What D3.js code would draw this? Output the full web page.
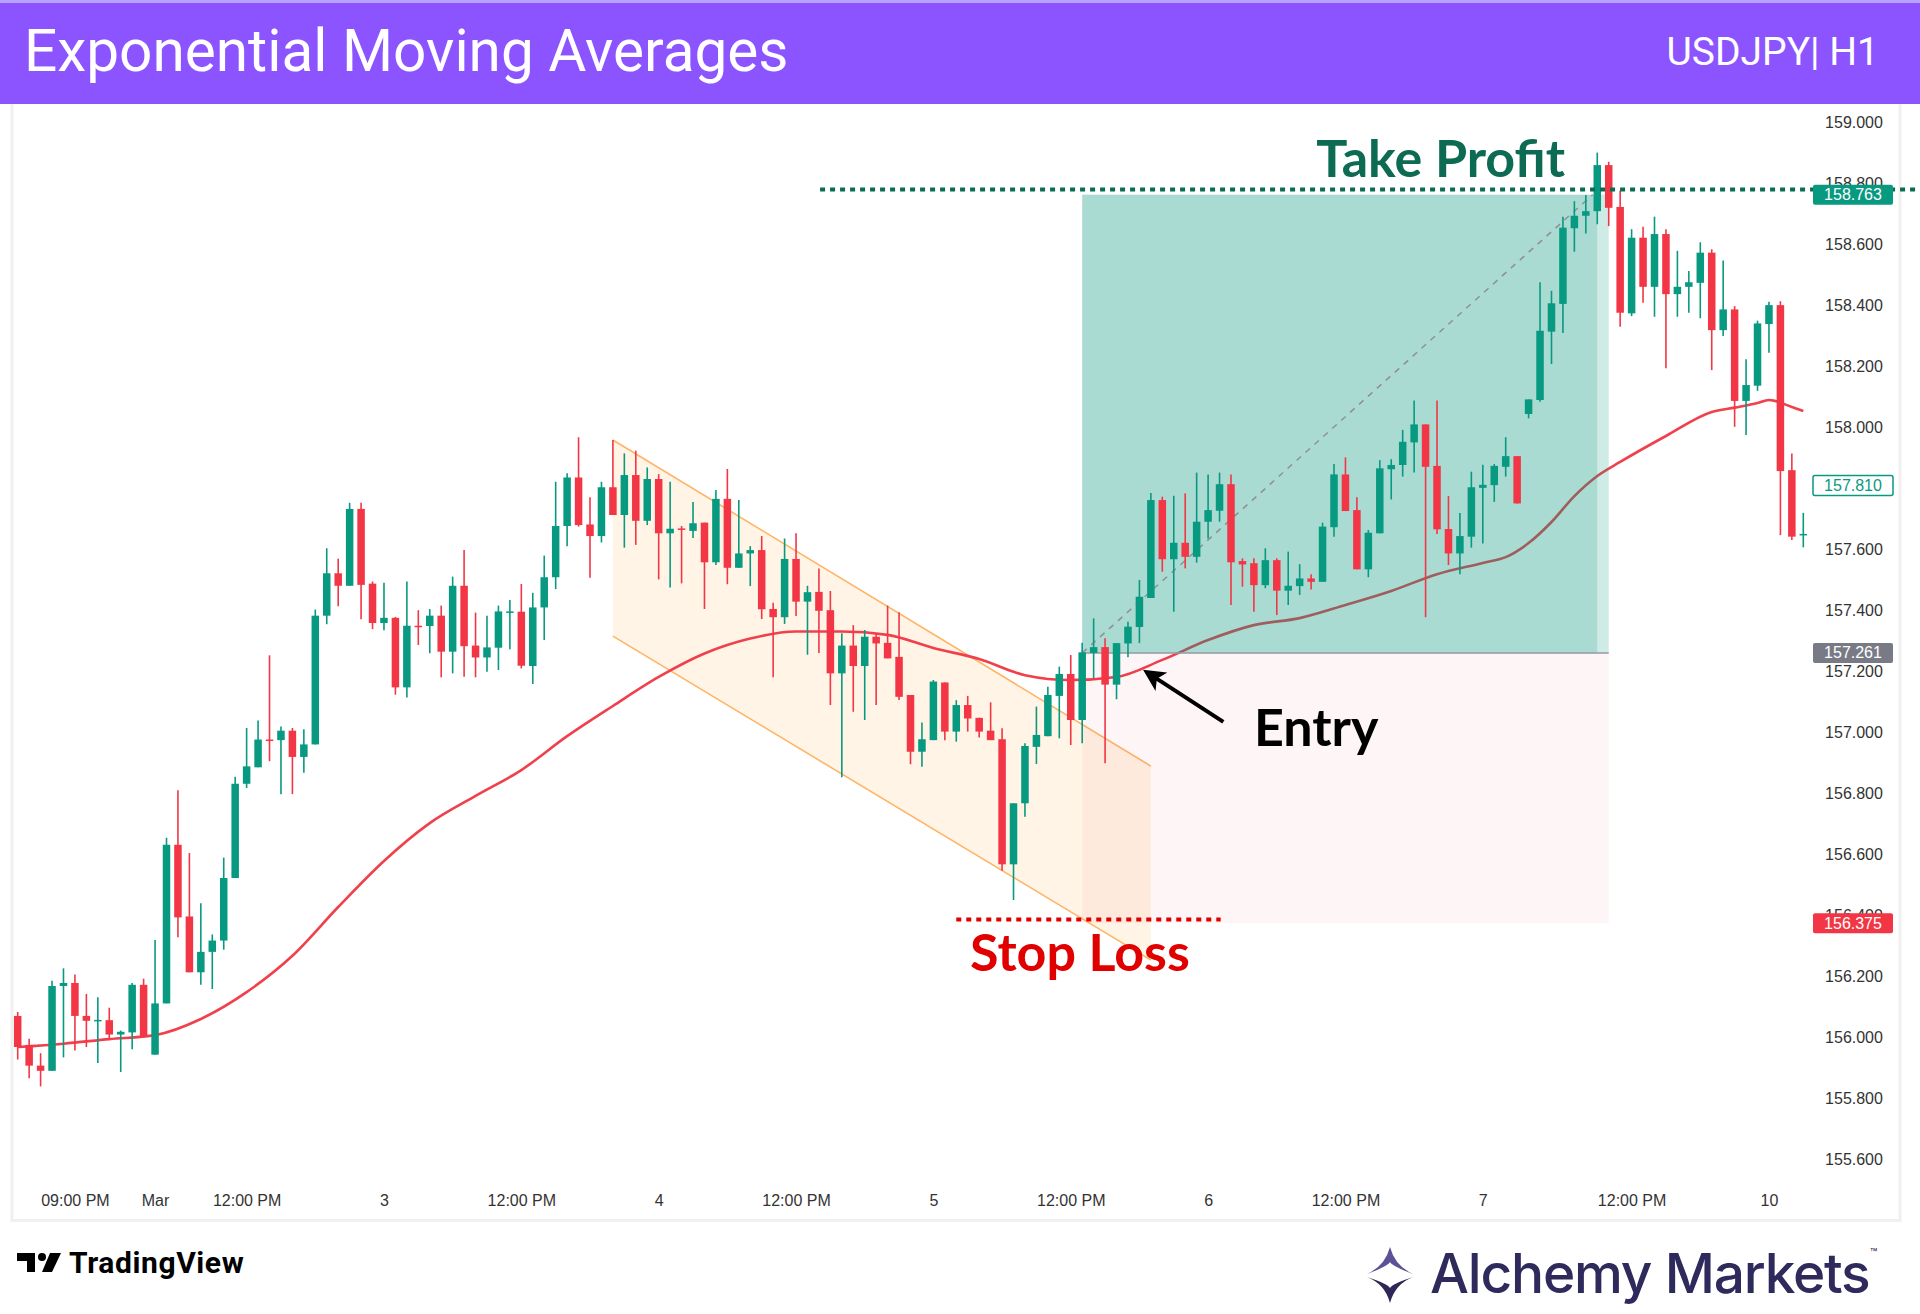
<!DOCTYPE html>
<html>
<head>
<meta charset="utf-8">
<script src="https://cdn.jsdelivr.net/npm/d3@7"></script>
<style>
body{margin:0;background:#fff}
svg{display:block}
</style>
</head>
<body>
<svg id="chart" width="1920" height="1314"></svg>
<script>
// USDJPY H1 candles
var opens = [156.071,155.976,155.908,155.891,156.169,156.179,156.071,156.056,156.057,156.010,156.017,156.173,155.944,156.112,156.632,156.397,156.214,156.281,156.318,156.523,
156.832,156.886,156.977,156.975,157.006,156.920,156.961,157.383,157.522,157.481,157.733,157.488,157.359,157.376,157.148,157.350,157.349,157.383,157.265,157.481,
157.285,157.246,157.278,157.395,157.396,157.218,157.410,157.509,157.677,157.836,157.682,157.644,157.804,157.713,157.844,157.694,157.831,157.653,157.669,157.661,
157.688,157.558,157.766,157.540,157.587,157.598,157.405,157.378,157.569,157.429,157.461,157.401,157.194,157.285,157.218,157.314,157.294,157.248,157.123,156.937,
156.975,157.164,157.003,157.090,157.048,157.006,156.978,156.568,156.768,156.953,156.988,157.120,157.192,157.041,157.261,157.280,157.157,157.292,157.346,157.441,
157.762,157.568,157.622,157.576,157.691,157.727,157.814,157.562,157.555,157.483,157.565,157.465,157.480,157.505,157.494,157.673,157.846,157.729,157.535,157.653,
157.863,157.877,157.951,158.010,157.874,157.667,157.587,157.642,157.802,157.811,157.871,157.906,158.044,158.090,158.314,158.405,158.653,158.694,158.709,158.860,
158.723,158.374,158.622,158.461,158.634,158.437,158.461,158.474,158.573,158.319,158.387,158.087,158.137,158.339,158.401,157.860,157.650];
var highs = [156.084,155.996,155.949,156.186,156.227,156.207,156.143,156.132,156.098,156.023,156.179,156.193,156.320,156.655,156.811,156.605,156.440,156.338,156.590,156.855,
157.015,157.039,157.253,157.020,157.015,157.011,157.403,157.604,157.570,157.753,157.753,157.495,157.491,157.379,157.495,157.401,157.405,157.416,157.511,157.598,
157.393,157.383,157.416,157.434,157.487,157.458,157.580,157.822,157.850,157.968,157.771,157.822,157.959,157.915,157.924,157.869,157.847,157.822,157.677,157.756,
157.688,157.795,157.864,157.762,157.611,157.644,157.425,157.636,157.653,157.481,157.538,157.464,157.325,157.352,157.336,157.325,157.416,157.394,157.123,157.033,
157.172,157.164,157.106,157.120,157.048,157.099,157.014,156.768,156.965,157.085,157.150,157.216,157.254,157.294,157.374,157.309,157.293,157.363,157.500,157.785,
157.773,157.776,157.784,157.852,157.846,157.852,157.846,157.571,157.571,157.604,157.571,157.593,157.552,157.519,157.688,157.880,157.902,157.771,157.664,157.893,
157.896,157.992,158.088,158.010,158.088,157.775,157.720,157.855,157.878,157.880,157.968,157.906,158.092,158.476,158.448,158.691,158.742,158.762,158.901,158.871,
158.776,158.650,158.658,158.691,158.650,158.579,158.513,158.607,158.584,158.547,158.398,158.224,158.350,158.412,158.414,157.915,157.720];
var lows = [155.928,155.867,155.840,155.891,155.935,155.958,155.969,155.917,155.996,155.887,155.962,156.003,155.944,156.112,156.329,156.214,156.173,156.159,156.288,156.523,
156.818,156.886,156.906,156.798,156.798,156.868,156.961,157.355,157.414,157.481,157.371,157.339,157.335,157.124,157.115,157.287,157.260,157.181,157.194,157.183,
157.181,157.199,157.205,157.273,157.210,157.159,157.303,157.470,157.611,157.675,157.507,157.623,157.713,157.606,157.615,157.680,157.502,157.475,157.489,157.638,
157.405,157.549,157.486,157.540,157.480,157.372,157.181,157.356,157.382,157.255,157.261,157.090,156.853,157.068,157.041,157.090,157.243,157.107,156.896,156.888,
156.975,156.975,156.970,157.003,156.984,156.975,156.547,156.451,156.724,156.897,156.988,156.981,156.959,156.965,157.178,156.899,157.109,157.247,157.293,157.441,
157.527,157.396,157.538,157.557,157.636,157.691,157.418,157.478,157.396,157.473,157.385,157.418,157.451,157.469,157.494,157.642,157.726,157.535,157.509,157.653,
157.764,157.839,157.852,157.378,157.651,157.549,157.519,157.606,157.620,157.756,157.839,157.751,158.030,158.084,158.208,158.310,158.576,158.636,158.666,158.660,
158.330,158.365,158.409,158.363,158.194,158.363,158.376,158.358,158.188,158.300,158.002,157.975,158.120,158.245,157.647,157.631,157.607];
var closes = [155.969,155.908,155.891,156.169,156.179,156.071,156.055,156.058,156.010,156.019,156.173,156.003,156.112,156.632,156.394,156.214,156.281,156.318,156.523,156.832,
156.889,156.977,156.975,157.006,156.920,156.961,157.383,157.522,157.481,157.733,157.484,157.359,157.376,157.148,157.350,157.347,157.383,157.265,157.481,157.283,
157.246,157.279,157.397,157.397,157.219,157.410,157.509,157.677,157.836,157.680,157.644,157.804,157.713,157.844,157.694,157.831,157.653,157.668,157.666,157.686,
157.558,157.766,157.540,157.587,157.598,157.404,157.378,157.569,157.429,157.460,157.399,157.194,157.285,157.218,157.314,157.292,157.243,157.117,156.937,156.978,
157.167,157.003,157.090,157.046,157.003,156.975,156.568,156.768,156.956,156.992,157.123,157.192,157.041,157.263,157.280,157.157,157.293,157.347,157.445,157.762,
157.568,157.622,157.576,157.691,157.729,157.814,157.558,157.551,157.483,157.565,157.465,157.481,157.505,157.494,157.675,157.846,157.726,157.535,157.655,157.866,
157.877,157.953,158.010,157.871,157.666,157.587,157.644,157.804,157.812,157.874,157.906,157.751,158.092,158.317,158.407,158.655,158.694,158.709,158.860,158.720,
158.376,158.622,158.461,158.634,158.437,158.461,158.476,158.573,158.319,158.387,158.087,158.139,158.341,158.401,157.857,157.642,157.651];

// EMA readings (bar index, value)
var emaIdx = [0,4,8,12,16,20,24,28,32,36,40,44,48,52,56,60,64,68,72,76,80,84,88,92,96,100,104,108,112,116,120,124,128,130,132,134,136,138,140,144,148,150,152,153,155,156];
var emaVals = [155.969,155.980,155.995,156.008,156.061,156.149,156.268,156.428,156.579,156.703,156.792,156.877,156.988,157.087,157.182,157.259,157.308,157.331,157.331,157.320,
157.277,157.241,157.188,157.172,157.182,157.238,157.303,157.352,157.375,157.418,157.464,157.519,157.556,157.575,157.621,157.690,157.775,157.841,157.887,157.972,
158.051,158.065,158.080,158.090,158.067,158.054];

var yTicks = [159.0,158.8,158.6,158.4,158.2,158.0,157.8,157.6,157.4,157.2,157.0,156.8,156.6,156.4,156.2,156.0,155.8,155.6];
var xTickIdx = [5,12,20,32,44,56,68,80,92,104,116,128,141,153];
var xTickLabels = ["09:00 PM","Mar","12:00 PM","3","12:00 PM","4","12:00 PM","5","12:00 PM","6","12:00 PM","7","12:00 PM","10"];

// trade levels
var tpPrice = 158.763, entryPrice = 157.261, slPrice = 156.375, markPrice = 157.810;
var entryIdx = 93, hitIdx = 138, endIdx = 139;
// channel drawn on the chart: [bar, price]
var channelTop = [[52,157.959],[99,156.890]];
var channelBottom = [[52,157.316],[99,156.254]];

var GREEN = "#089981", RED = "#f23645";

var svg = d3.select("#chart");
var x = d3.scaleLinear().domain([0,156]).range([17.7,1803.3]);
var y = d3.scaleLinear().domain([155.6,159]).range([1159.6,122.4]);

// header band
svg.append("rect").attr("width",1920).attr("height",104).attr("fill","#8c54ff");
svg.append("rect").attr("width",1920).attr("height",3).attr("fill","#b8a2ff");
svg.append("text").attr("x",24).attr("y",71)
    .attr("font-family","Roboto").attr("font-size",58.5).attr("fill","#fff")
    .text("Exponential Moving Averages");
svg.append("text").attr("x",1879).attr("y",65).attr("text-anchor","end")
    .attr("font-family","Roboto").attr("font-size",39).attr("fill","#fff")
    .text("USDJPY| H1");

// panel frame
var frame = svg.append("g").attr("stroke","#f0f0f0").attr("stroke-width",3);
frame.append("line").attr("x1",12).attr("x2",12).attr("y1",104).attr("y2",1222);
frame.append("line").attr("x1",1900).attr("x2",1900).attr("y1",104).attr("y2",1222);
frame.append("line").attr("x1",10.5).attr("x2",1901.5).attr("y1",1220.5).attr("y2",1220.5);

// falling channel
var chan = channelTop.concat(channelBottom.slice().reverse());
svg.append("path")
    .attr("d", d3.line().x(function(d){return x(d[0]);}).y(function(d){return y(d[1]);})(chan) + "Z")
    .attr("fill","rgba(255,152,0,0.1)");
[channelTop, channelBottom].forEach(function(seg){
    svg.append("line")
        .attr("x1",x(seg[0][0])).attr("y1",y(seg[0][1]))
        .attr("x2",x(seg[1][0])).attr("y2",y(seg[1][1]))
        .attr("stroke","#ffb466").attr("stroke-width",1.6);
});

// EMA
var emaPts = emaIdx.map(function(d,i){return [d, emaVals[i]];});
svg.append("path")
    .attr("d", d3.line().curve(d3.curveMonotoneX)
        .x(function(d){return x(d[0]);}).y(function(d){return y(d[1]);})(emaPts))
    .attr("fill","none").attr("stroke","#f0404c").attr("stroke-width",2.6);

// long position tool
svg.append("rect").attr("x",x(entryIdx)).attr("width",x(endIdx)-x(entryIdx))
    .attr("y",y(entryPrice)).attr("height",y(slPrice)-y(entryPrice))
    .attr("fill","rgba(242,54,69,0.05)");
svg.append("rect").attr("x",x(entryIdx)).attr("width",x(hitIdx)-x(entryIdx))
    .attr("y",y(tpPrice)).attr("height",y(entryPrice)-y(tpPrice))
    .attr("fill","rgba(8,153,129,0.35)");
svg.append("rect").attr("x",x(hitIdx)).attr("width",x(endIdx)-x(hitIdx))
    .attr("y",y(tpPrice)).attr("height",y(entryPrice)-y(tpPrice))
    .attr("fill","rgba(8,153,129,0.2)");
svg.append("line").attr("x1",x(entryIdx)).attr("x2",x(endIdx))
    .attr("y1",y(entryPrice)).attr("y2",y(entryPrice))
    .attr("stroke","#9598a1").attr("stroke-width",1.5);
svg.append("line").attr("x1",x(entryIdx)).attr("y1",y(entryPrice))
    .attr("x2",x(hitIdx - 0.4)).attr("y2",y(tpPrice))
    .attr("stroke","#8f8f96").attr("stroke-width",1.5).attr("stroke-dasharray","6,6");

// candles
var candles = opens.map(function(o,i){
    return {i:i, o:o, h:highs[i], l:lows[i], c:closes[i]};
});
var cg = svg.append("g").selectAll("g").data(candles).enter().append("g")
    .attr("fill",function(d){return d.c >= d.o ? GREEN : RED;})
    .attr("stroke",function(d){return d.c >= d.o ? GREEN : RED;});
cg.append("line")
    .attr("x1",function(d){return x(d.i);}).attr("x2",function(d){return x(d.i);})
    .attr("y1",function(d){return y(d.h);}).attr("y2",function(d){return y(d.l);})
    .attr("stroke-width",1.6);
cg.append("rect")
    .attr("stroke","none")
    .attr("x",function(d){return x(d.i)-3.75;}).attr("width",7.5)
    .attr("y",function(d){return y(Math.max(d.o,d.c));})
    .attr("height",function(d){return Math.max(1.5, Math.abs(y(d.o)-y(d.c)));});

// take profit / stop loss marks
svg.append("line").attr("x1",x(70.1)).attr("x2",1920)
    .attr("y1",y(158.78)).attr("y2",y(158.78))
    .attr("stroke","#0c6b52").attr("stroke-width",4).attr("stroke-dasharray","5,5");
svg.append("line").attr("x1",x(82)).attr("x2",x(105.1))
    .attr("y1",y(156.387)).attr("y2",y(156.387))
    .attr("stroke","#e00000").attr("stroke-width",4).attr("stroke-dasharray","5,5");

var notes = svg.append("g").attr("font-family","Lato").attr("font-weight",700).attr("font-size",52);
notes.append("text").attr("x",x(113.45)).attr("y",y(158.821)).attr("fill","#0c6b52").text("Take Profit");
notes.append("text").attr("x",x(83.2)).attr("y",y(156.218)).attr("fill","#e00000").text("Stop Loss");
notes.append("text").attr("x",x(108)).attr("y",y(156.956)).attr("fill","#000").text("Entry");

// entry arrow
svg.append("defs").append("marker").attr("id","head")
    .attr("viewBox","0 0 10 10").attr("refX",7).attr("refY",5)
    .attr("markerWidth",5.5).attr("markerHeight",5.5).attr("orient","auto")
    .append("path").attr("d","M0,0 L10,5 L0,10 L2.5,5 Z").attr("fill","#000");
svg.append("line").attr("x1",x(105.33)).attr("y1",y(157.035))
    .attr("x2",x(98.8)).attr("y2",y(157.194))
    .attr("stroke","#000").attr("stroke-width",4).attr("marker-end","url(#head)");

// price axis
var yAxis = svg.append("g").attr("transform","translate(1854,0)")
    .call(d3.axisRight(y).tickValues(yTicks).tickFormat(d3.format(".3f")).tickSize(0).tickPadding(0));
yAxis.select(".domain").remove();
yAxis.selectAll("text").attr("text-anchor","middle").attr("x",0)
    .attr("font-family","Liberation Sans").attr("font-size",16).attr("fill","#333");

// time axis
var xAxis = svg.append("g").attr("transform","translate(0,1195)")
    .call(d3.axisBottom(x).tickValues(xTickIdx).tickFormat(function(d,i){return xTickLabels[i];}).tickSize(0).tickPadding(0));
xAxis.select(".domain").remove();
xAxis.selectAll("text").attr("font-family","Liberation Sans").attr("font-size",16).attr("fill","#333");

// price tags
var tags = [
    {v:tpPrice, fill:GREEN, stroke:"none", text:"#fff"},
    {v:markPrice, fill:"#fff", stroke:GREEN, text:GREEN},
    {v:entryPrice, fill:"#787b86", stroke:"none", text:"#fff"},
    {v:slPrice, fill:RED, stroke:"none", text:"#fff"}
];
var tg = svg.append("g").selectAll("g").data(tags).enter().append("g");
tg.append("rect").attr("x",1813).attr("width",80).attr("height",20).attr("rx",2)
    .attr("y",function(d){return y(d.v)-10;})
    .attr("fill",function(d){return d.fill;}).attr("stroke",function(d){return d.stroke;}).attr("stroke-width",1.5);
tg.append("text").attr("x",1853).attr("text-anchor","middle")
    .attr("y",function(d){return y(d.v)+5.5;})
    .attr("font-family","Liberation Sans").attr("font-size",16)
    .attr("fill",function(d){return d.text;})
    .text(function(d){return d3.format(".3f")(d.v);});

// TradingView mark
var tv = svg.append("g").attr("fill","#000");
tv.append("path").attr("d","M17,1253 H35 V1272 H27 V1261 H17 Z");
tv.append("circle").attr("cx",42).attr("cy",1257).attr("r",4);
tv.append("path").attr("d","M50,1253 H61 L52,1272 H42 Z");
tv.append("text").attr("x",69).attr("y",1273).attr("font-family","Roboto").attr("font-weight",700)
    .attr("font-size",30).attr("letter-spacing",0.6).text("TradingView");

// Alchemy Markets mark
var am = svg.append("g");
am.append("path").attr("d","M1390,1247 Q1395,1266 1413,1274 Q1392,1266 1390,1262 Q1388,1266 1367,1274 Q1385,1266 1390,1247 Z").attr("fill","#5d5296");
am.append("path").attr("d","M1390,1303 Q1395,1284 1413,1277 Q1392,1284 1390,1288 Q1388,1284 1367,1277 Q1385,1284 1390,1303 Z").attr("fill","#2d2858");
am.append("text").attr("x",1430).attr("y",1293).attr("font-family","Inter").attr("font-weight",500)
    .attr("font-size",55).attr("letter-spacing",-1.2).attr("fill","#2e2a5c").text("Alchemy Markets");
am.append("text").attr("x",1870).attr("y",1257).attr("font-family","Inter")
    .attr("font-size",12).attr("fill","#2e2a5c").text("™");
</script>
</body>
</html>
